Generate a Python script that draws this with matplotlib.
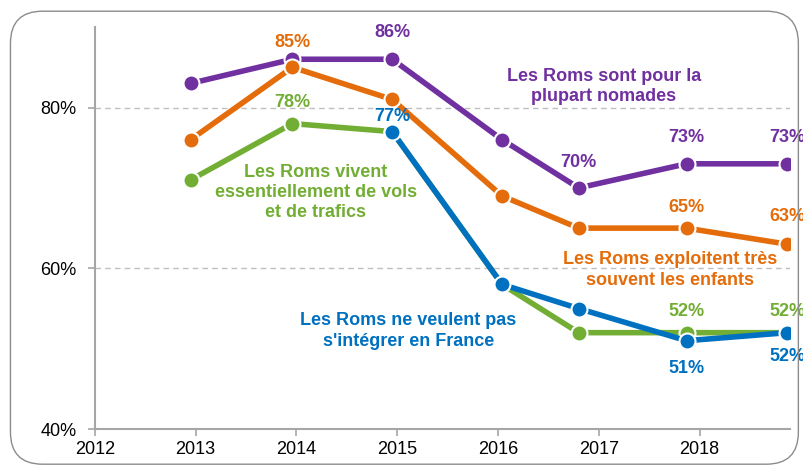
import matplotlib
matplotlib.use("Agg")
import matplotlib.pyplot as plt
from matplotlib.patches import FancyBboxPatch

plt.rcParams['font.family'] = ['Liberation Sans', 'DejaVu Sans']

# x positions of the survey waves (as placed on the year axis)
waves = [2012.95, 2013.96, 2014.95, 2016.04, 2016.8, 2017.87, 2018.87]

nomades = [83, 86, 86, 76, 70, 73, 73]
enfants = [76, 85, 81, 69, 65, 65, 63]
vols = [71, 78, 77, 58, 52, 52, 52]
integrer = [None, None, 77, 58, 55, 51, 52]

years = [2012, 2013, 2014, 2015, 2016, 2017, 2018]
yticks = [40, 60, 80]

c_purple = '#7030A0'
c_orange = '#E46C0A'
c_green = '#72AE34'
c_blue = '#0070C0'

fig = plt.figure(figsize=(8.04, 4.67), dpi=100)
ax = fig.add_axes([0.118, 0.081, 0.865, 0.861])

# rounded frame around the chart
frame = FancyBboxPatch((0.013, 0.006), 0.98, 0.97, boxstyle="round,pad=0,rounding_size=0.04",
                       transform=fig.transFigure, fill=False, edgecolor='#8c8c8c', linewidth=1.0,
                       mutation_aspect=804/467)
fig.patches.append(frame)

def draw(xs, ys, color, z):
    pts = [(x, y) for x, y in zip(xs, ys) if y is not None]
    xx = [p[0] for p in pts]
    yy = [p[1] for p in pts]
    ax.plot(xx, yy, color=color, linewidth=4, zorder=z, solid_capstyle='butt')
    ax.plot(xx, yy, linestyle='none', marker='o', markersize=11.5, markerfacecolor=color,
            markeredgecolor='white', markeredgewidth=1.5, zorder=z + 0.5)

draw(waves, nomades, c_purple, 3)
draw(waves, enfants, c_orange, 4)
draw(waves, vols, c_green, 5)
draw(waves, integrer, c_blue, 6)

def label(i, series, color, dy):
    ax.annotate(f"{series[i]}%", (waves[i], series[i]), xytext=(0, dy), textcoords='offset points',
                ha='center', va='center', color=color, fontsize=13, fontweight='bold', zorder=10)

label(1, enfants, c_orange, 18)
label(2, nomades, c_purple, 19)
label(1, vols, c_green, 15)
label(2, integrer, c_blue, 11)
label(4, nomades, c_purple, 18)
label(5, nomades, c_purple, 19)
label(6, nomades, c_purple, 19)
label(5, enfants, c_orange, 15)
label(6, enfants, c_orange, 20)
label(5, vols, c_green, 15)
label(6, vols, c_green, 15)
label(5, integrer, c_blue, -20)
label(6, integrer, c_blue, -17)

tk = dict(ha='center', va='center', fontsize=13, fontweight='bold', linespacing=1.25)
ax.text(2017.05, 82.6, "Les Roms sont pour la\nplupart nomades", color=c_purple, **tk)
ax.text(2014.19, 69.4, "Les Roms vivent\nessentiellement de vols\net de trafics", color=c_green, **tk)
ax.text(2017.71, 59.8, "Les Roms exploitent très\nsouvent les enfants", color=c_orange, **tk)
ax.text(2015.11, 52.2, "Les Roms ne veulent pas\ns'intégrer en France", color=c_blue, **tk)

ax.set_xlim(2012, 2018.9)
ax.set_ylim(40, 90)
ax.set_xticks(years)
ax.set_xticklabels([str(y) for y in years])
ax.set_yticks(yticks)
ax.set_yticklabels([f"{v}%" for v in yticks])
for v in yticks[1:]:
    ax.axhline(v, color='#bfbfbf', linewidth=1, linestyle=(0, (4, 3)), zorder=1)

for s in ['top', 'right']:
    ax.spines[s].set_visible(False)
for s in ['left', 'bottom']:
    ax.spines[s].set_color('#a6a6a6')
    ax.spines[s].set_linewidth(1.5)
ax.tick_params(axis='both', colors='#a6a6a6', labelcolor='black', labelsize=13, length=5, width=1.2)
ax.tick_params(axis='y', pad=8)

fig.savefig('out.png', dpi=100)
